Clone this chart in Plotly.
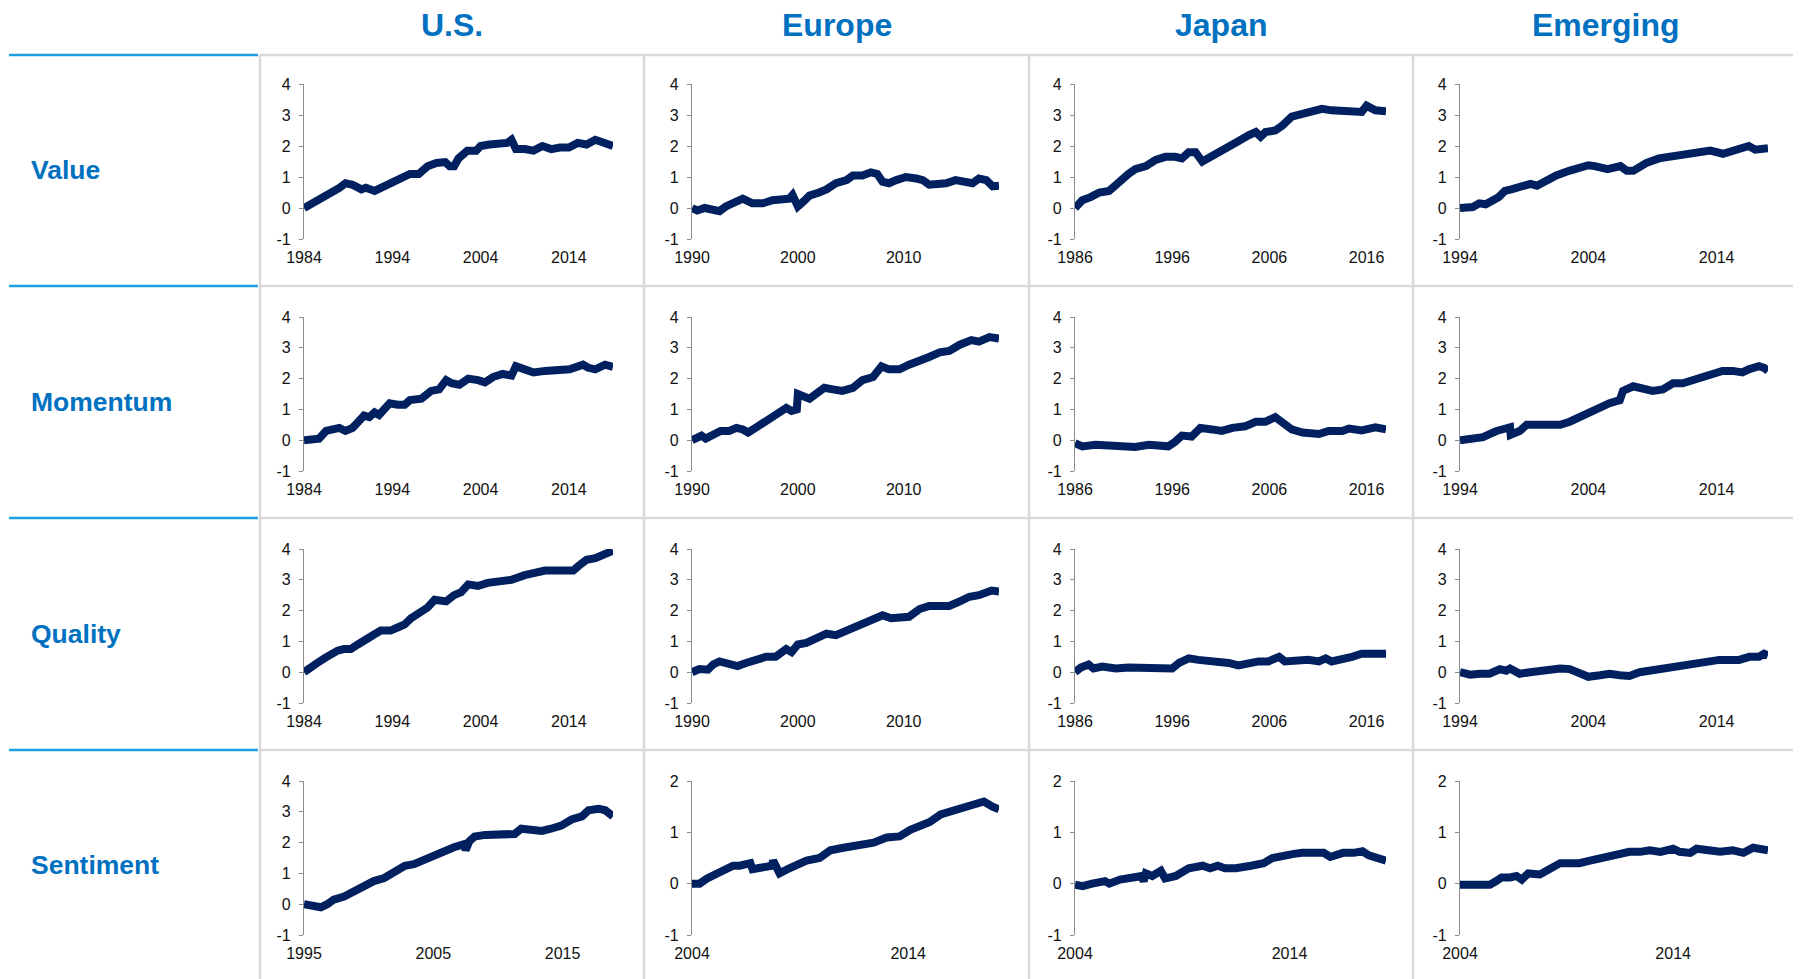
import plotly.graph_objects as go

# regions (columns) and factors (rows)
regions = ["U.S.", "Europe", "Japan", "Emerging"]
factors = ["Value", "Momentum", "Quality", "Sentiment"]

# --- cumulative factor returns (year, value) ---
us_value_t = [1984, 1985, 1986, 1987, 1988, 1988.7, 1989.5, 1990.5, 1991, 1992, 1993, 1994, 1995, 1996, 1997, 1998, 1999,
              2000, 2000.5, 2001, 2001.5, 2002.5, 2003.5, 2004, 2005, 2006, 2007, 2007.5, 2008, 2009, 2010, 2011, 2012,
              2013, 2014, 2015, 2016, 2017, 2018, 2019]
us_value_y = [0.0, 0.15, 0.3, 0.45, 0.65, 0.8, 0.75, 0.6, 0.65, 0.55, 0.7, 0.8, 0.95, 1.1, 1.1, 1.35, 1.45,
              1.48, 1.35, 1.35, 1.6, 1.85, 1.85, 2.0, 2.05, 2.1, 2.1, 2.2, 1.9, 1.9, 1.85, 2.0, 1.9,
              1.95, 1.95, 2.1, 2.05, 2.2, 2.1, 2.0]

us_mom_t = [1984, 1985, 1985.7, 1986.5, 1987.4, 1988, 1988.7, 1989.5, 1990, 1990.8, 1991.4, 1992, 1992.5, 1993.7,
            1994.6, 1995.4, 1996, 1997.3, 1998.4, 1999.3, 2000.1, 2000.7, 2001.6, 2002.6, 2003.7, 2004.5, 2005.4,
            2006.5, 2007.5, 2008, 2009, 2010, 2011.3, 2012.8, 2014.1, 2015.6, 2016.2, 2017, 2018.1, 2019]
us_mom_y = [0.0, 0.0, 0.05, 0.3, 0.35, 0.4, 0.3, 0.4, 0.55, 0.8, 0.75, 0.9, 0.82, 1.2,
            1.15, 1.15, 1.3, 1.35, 1.6, 1.65, 1.95, 1.85, 1.8, 2.0, 1.95, 1.88, 2.05,
            2.15, 2.1, 2.4, 2.3, 2.2, 2.25, 2.3, 2.3, 2.45, 2.35, 2.3, 2.45, 2.38]

us_qual_t = [1984, 1984.8, 1985.5, 1986.3, 1987, 1987.8, 1988.5, 1989.3, 1990.1, 1990.8, 1991.8, 1992.7, 1993.8,
             1994.6, 1995.4, 1996.1, 1997.3, 1998, 1998.8, 1999.5, 2000.1, 2001, 2001.8, 2002.6, 2003.7, 2004.8,
             2006, 2007.5, 2009, 2010.1, 2011.3, 2012.8, 2014.5, 2015.1, 2016, 2017, 2018.1, 2019]
us_qual_y = [0.0, 0.2, 0.3, 0.45, 0.6, 0.7, 0.75, 0.75, 0.9, 1.05, 1.2, 1.35, 1.35,
             1.45, 1.55, 1.75, 1.95, 2.1, 2.35, 2.35, 2.3, 2.5, 2.6, 2.85, 2.8, 2.9,
             2.95, 3.0, 3.15, 3.25, 3.3, 3.3, 3.3, 3.45, 3.65, 3.7, 3.85, 3.95]

us_sent_t = [1995, 1995.8, 1996.3, 1996.8, 1997.3, 1998.1, 1998.9, 1999.7, 2000.4, 2001.2, 2002, 2002.8, 2003.5,
             2004.3, 2005.1, 2005.9, 2006.6, 2007.4, 2007.5, 2007.8, 2008.2, 2009, 2009.7, 2010.5, 2011.3, 2011.8,
             2012.6, 2013.4, 2014.1, 2014.9, 2015.7, 2016.5, 2017, 2017.8, 2018.3, 2018.9]
us_sent_y = [0.0, -0.03, -0.1, 0.0, 0.15, 0.25, 0.45, 0.6, 0.75, 0.85, 1.05, 1.25, 1.3,
             1.45, 1.55, 1.7, 1.85, 1.95, 1.75, 2.05, 2.2, 2.25, 2.27, 2.3, 2.28, 2.45,
             2.4, 2.38, 2.45, 2.55, 2.75, 2.85, 3.05, 3.1, 3.05, 2.85]

eu_value_t = [1990, 1990.5, 1991.2, 1991.8, 1992.6, 1993.2, 1993.8, 1994.8, 1995.7, 1996.7, 1997.6, 1998.6, 1999.2,
              1999.5, 2000, 2000.5, 2001.1, 2002, 2002.7, 2003.6, 2004.6, 2005.2, 2006.1, 2006.9, 2007.5, 2008,
              2008.6, 2009.3, 2010.2, 2011.2, 2011.8, 2012.4, 2013.4, 2014, 2014.9, 2015.9, 2016.5, 2017.1, 2017.8,
              2018.4, 2019]
eu_value_y = [0.0, -0.08, 0.0, -0.05, -0.1, 0.05, 0.15, 0.3, 0.15, 0.15, 0.25, 0.3, 0.3,
              0.42, 0.05, 0.2, 0.4, 0.5, 0.6, 0.8, 0.9, 1.05, 1.05, 1.15, 1.1, 0.85,
              0.8, 0.9, 1.0, 0.95, 0.9, 0.75, 0.75, 0.8, 0.9, 0.85, 0.8, 0.95, 0.9,
              0.7, 0.72]

eu_mom_t = [1990, 1990.9, 1991.3, 1992, 1992.7, 1993.5, 1994.2, 1994.8, 1995.3, 1996, 1997, 1997.9, 1998.9, 1999.4,
            1999.9, 2000, 2000.5, 2001.1, 2001.7, 2002.5, 2003.3, 2004.2, 2005.2, 2006.1, 2007.1, 2007.9, 2008.6,
            2009.6, 2010.5, 2011.5, 2012.4, 2013.4, 2014.3, 2015.3, 2016.4, 2017.1, 2018.1, 2019]
eu_mom_y = [0.0, 0.15, 0.05, 0.2, 0.3, 0.3, 0.4, 0.35, 0.25, 0.4, 0.6, 0.8, 1.05, 0.95,
            1.0, 1.5, 1.4, 1.35, 1.5, 1.7, 1.65, 1.6, 1.7, 1.95, 2.05, 2.4, 2.3,
            2.3, 2.45, 2.55, 2.7, 2.85, 2.9, 3.1, 3.25, 3.2, 3.35, 3.3]

eu_qual_t = [1990, 1990.7, 1991.5, 1992, 1992.6, 1993.2, 1994.3, 1995.1, 1996, 1997, 1997.9, 1998.9, 1999.4, 2000,
             2000.8, 2001.7, 2002.7, 2003.6, 2004.6, 2005.5, 2006.4, 2007.4, 2008, 2008.8, 2009.9, 2010.5, 2011.5,
             2012.4, 2013.4, 2014.3, 2015.3, 2016.2, 2017.1, 2018.3, 2019]
eu_qual_y = [0.0, 0.1, 0.08, 0.25, 0.35, 0.3, 0.2, 0.3, 0.4, 0.5, 0.5, 0.75, 0.65, 0.9,
             0.95, 1.1, 1.25, 1.2, 1.35, 1.45, 1.6, 1.7, 1.85, 1.75, 1.8, 1.8, 2.05,
             2.15, 2.15, 2.15, 2.3, 2.45, 2.5, 2.65, 2.62]

eu_sent_t = [2004, 2004.35, 2004.7, 2005.1, 2005.6, 2005.9, 2006.2, 2006.7, 2006.8, 2007.3, 2007.7, 2007.75, 2008.05,
             2008.5, 2009.3, 2009.9, 2010.4, 2011, 2011.8, 2012.4, 2013, 2013.6, 2014.1, 2014.5, 2015, 2015.5,
             2015.9, 2016.4, 2017, 2017.5, 2017.9, 2018.2]
eu_sent_y = [0.0, 0.0, 0.1, 0.18, 0.3, 0.35, 0.35, 0.4, 0.28, 0.32, 0.35, 0.45, 0.2,
             0.3, 0.45, 0.5, 0.65, 0.7, 0.75, 0.8, 0.9, 0.92, 1.05, 1.1, 1.2, 1.35,
             1.4, 1.45, 1.52, 1.6, 1.5, 1.45]

jp_value_t = [1986, 1986.75, 1987.6, 1988.5, 1989.5, 1990.5, 1991.5, 1992.2, 1993.3, 1994.3, 1995.3, 1996.3, 1997,
              1997.7, 1998.4, 1999.1, 1999.9, 2000.8, 2001.8, 2002.8, 2003.9, 2004.6, 2005.1, 2005.6, 2006.6, 2007.3,
              2008.3, 2009.4, 2010.4, 2011.4, 2012.4, 2013.5, 2014.5, 2015.5, 2016, 2016.9, 2018]
jp_value_y = [0.0, 0.25, 0.35, 0.5, 0.55, 0.85, 1.1, 1.25, 1.35, 1.55, 1.65, 1.65, 1.6,
              1.8, 1.8, 1.5, 1.65, 1.85, 2.0, 2.15, 2.35, 2.45, 2.3, 2.45, 2.5, 2.65,
              2.95, 3.05, 3.15, 3.2, 3.15, 3.15, 3.1, 3.1, 3.3, 3.15, 3.12]

jp_mom_t = [1986, 1986.75, 1988.1, 1989.5, 1990.9, 1992.2, 1993.6, 1995, 1995.6, 1996.3, 1997, 1998, 1998.9, 2000.1,
            2001.1, 2002.2, 2003.5, 2004.6, 2005.6, 2006.6, 2007.3, 2008.3, 2009.4, 2010.4, 2011.1, 2012.1, 2013.5,
            2014.2, 2015.5, 2016.9, 2018]
jp_mom_y = [-0.1, -0.2, -0.15, -0.18, -0.18, -0.22, -0.15, -0.18, -0.2, -0.05, 0.15, 0.12, 0.4, 0.35,
            0.3, 0.4, 0.45, 0.6, 0.6, 0.75, 0.6, 0.35, 0.25, 0.25, 0.2, 0.3, 0.3,
            0.38, 0.32, 0.42, 0.35]

jp_qual_t = [1986, 1986.6, 1987.4, 1987.9, 1988.8, 1990.2, 1991.5, 1992.9, 1993.9, 1995, 1996, 1996.7, 1997.7,
             1998.7, 1999.8, 2000.8, 2001.8, 2002.8, 2003.9, 2004.9, 2005.9, 2007, 2007.6, 2008.7, 2010, 2011.1,
             2011.8, 2012.4, 2013.5, 2014.5, 2015.5, 2016.9, 2018]
jp_qual_y = [0.0, 0.15, 0.25, 0.12, 0.18, 0.12, 0.15, 0.15, 0.1, 0.1, 0.12, 0.3, 0.45,
             0.4, 0.38, 0.3, 0.3, 0.22, 0.3, 0.35, 0.35, 0.5, 0.35, 0.4, 0.4, 0.35,
             0.45, 0.35, 0.4, 0.5, 0.6, 0.6, 0.6]

jp_sent_t = [2004, 2004.35, 2004.8, 2005.4, 2005.6, 2006.1, 2006.7, 2007.1, 2007.2, 2007.3, 2007.6, 2008, 2008.2,
             2008.7, 2009.3, 2009.95, 2010.3, 2010.65, 2011, 2011.5, 2012.2, 2012.8, 2013.2, 2013.7, 2014.2, 2014.6,
             2015.1, 2015.6, 2015.9, 2016.5, 2017, 2017.4, 2017.7, 2018.2, 2018.5]
jp_sent_y = [-0.02, -0.05, 0.0, 0.05, 0.0, 0.08, 0.12, 0.15, 0.05, 0.2, 0.15, 0.25, 0.1,
             0.15, 0.3, 0.35, 0.3, 0.35, 0.3, 0.3, 0.35, 0.4, 0.5, 0.55, 0.58, 0.6,
             0.6, 0.6, 0.52, 0.6, 0.6, 0.63, 0.55, 0.5, 0.45]

em_value_t = [1994, 1995, 1995.5, 1996, 1997, 1997.5, 1998, 1999, 1999.5, 2000, 2000.5, 2001.5, 2002.5, 2003.5, 2004,
              2004.5, 2005.5, 2006.5, 2007, 2007.5, 2008.5, 2009.5, 2010.5, 2011.5, 2012.5, 2013.5, 2014.5, 2015.5,
              2016.5, 2017, 2017.5, 2018]
em_value_y = [0.0, 0.03, 0.15, 0.12, 0.35, 0.55, 0.6, 0.7, 0.78, 0.72, 0.85, 1.05, 1.2, 1.35, 1.38,
              1.35, 1.25, 1.35, 1.2, 1.2, 1.45, 1.6, 1.65, 1.72, 1.8, 1.85, 1.75, 1.85,
              2.0, 1.88, 1.92, 1.93]

em_mom_t = [1994, 1994.8, 1995.3, 1995.8, 1996.3, 1996.85, 1997.9, 1997.95, 1998.65, 1999.2, 2000, 2000.7, 2001.25,
            2001.8, 2002.55, 2003.3, 2004, 2004.9, 2005.65, 2006.45, 2006.7, 2007.5, 2008, 2008.5, 2009, 2009.8,
            2010.6, 2011.35, 2012.1, 2012.9, 2013.7, 2014.45, 2015.25, 2016, 2016.5, 2017.3, 2017.7, 2018]
em_mom_y = [0.0, 0.02, 0.05, 0.1, 0.2, 0.3, 0.42, 0.18, 0.3, 0.5, 0.5, 0.5, 0.45,
            0.5, 0.6, 0.75, 0.85, 1.0, 1.2, 1.3, 1.6, 1.75, 1.7, 1.6, 1.6, 1.65,
            1.85, 1.85, 1.95, 2.05, 2.1, 2.25, 2.25, 2.2, 2.3, 2.4, 2.35, 2.25]

em_qual_t = [1994, 1994.8, 1995.55, 1996.3, 1997.1, 1997.6, 1997.9, 1998.65, 1999.45, 2000.2, 2001, 2001.8, 2002.55,
             2003.3, 2004, 2004.9, 2005.65, 2006.45, 2007.2, 2008, 2008.75, 2009.55, 2010.3, 2011.1, 2011.9, 2012.65,
             2013.45, 2014.2, 2015, 2015.75, 2016.55, 2017.3, 2017.7, 2018]
em_qual_y = [0.0, -0.08, -0.05, -0.05, 0.1, 0.05, 0.12, -0.05, 0.0, 0.05, 0.12, 0.12, 0.1,
             -0.05, -0.15, -0.1, -0.05, -0.1, -0.12, 0.0, 0.05, 0.12, 0.15, 0.25, 0.3, 0.3,
             0.35, 0.4, 0.4, 0.4, 0.5, 0.5, 0.6, 0.55]

em_sent_t = [2004, 2004.45, 2004.95, 2005.4, 2005.7, 2005.95, 2006.35, 2006.65, 2006.9, 2007.2, 2007.75, 2008.05,
             2008.4, 2008.7, 2009.15, 2009.6, 2010.1, 2010.55, 2011, 2011.5, 2011.95, 2012.45, 2012.9, 2013.4, 2014,
             2014.3, 2014.8, 2015.1, 2015.55, 2016.2, 2016.8, 2017.3, 2017.75, 2018.15, 2018.45]
em_sent_y = [-0.02, -0.02, 0.0, -0.02, 0.05, 0.12, 0.12, 0.15, 0.08, 0.2, 0.18, 0.25,
             0.3, 0.4, 0.4, 0.4, 0.45, 0.5, 0.55, 0.6, 0.62, 0.62, 0.65, 0.62, 0.68,
             0.62, 0.6, 0.68, 0.65, 0.62, 0.65, 0.6, 0.7, 0.68, 0.65]

series = {
    ("Value", "U.S."): (us_value_t, us_value_y),
    ("Momentum", "U.S."): (us_mom_t, us_mom_y),
    ("Quality", "U.S."): (us_qual_t, us_qual_y),
    ("Sentiment", "U.S."): (us_sent_t, us_sent_y),
    ("Value", "Europe"): (eu_value_t, eu_value_y),
    ("Momentum", "Europe"): (eu_mom_t, eu_mom_y),
    ("Quality", "Europe"): (eu_qual_t, eu_qual_y),
    ("Sentiment", "Europe"): (eu_sent_t, eu_sent_y),
    ("Value", "Japan"): (jp_value_t, jp_value_y),
    ("Momentum", "Japan"): (jp_mom_t, jp_mom_y),
    ("Quality", "Japan"): (jp_qual_t, jp_qual_y),
    ("Sentiment", "Japan"): (jp_sent_t, jp_sent_y),
    ("Value", "Emerging"): (em_value_t, em_value_y),
    ("Momentum", "Emerging"): (em_mom_t, em_mom_y),
    ("Quality", "Emerging"): (em_qual_t, em_qual_y),
    ("Sentiment", "Emerging"): (em_sent_t, em_sent_y),
}

# --- page geometry (screen pixels; the page body adds an 8px offset) ---
OFF = 8
W, H = 1801 - OFF, 979 - OFF
FONT = "Liberation Sans, Arial, sans-serif"
BLUE_TXT = "#0070C0"
BLUE_RULE = "#1EA0E0"
GRID = "#D9D9D9"
AXIS = "#8C8C8C"
LINE = "#00205F"

col_edges = [260, 644, 1029, 1413, 1799]
row_edges = [55, 286, 518, 750, 979]
col_axis = [(304, 613), (692, 999), (1075, 1386), (1460, 1768)]
row_axis = [(84, 239), (317, 471), (549, 703), (781, 935)]


def px(x):
    return (x - OFF) / W


def py(y):
    return 1 - (y - OFF) / H


fig = go.Figure()
layout = {}
n_panels = len(regions) * len(factors)

for r, fac in enumerate(factors):
    for c, reg in enumerate(regions):
        n = r * len(regions) + c + 1
        m = n + n_panels  # overlay axis carrying the zero line
        t, v = series[(fac, reg)]
        ymin, ymax = (-1, 2) if (fac == "Sentiment" and reg != "U.S.") else (-1, 4)
        x0, x1 = t[0], t[-1]
        ticks = list(range(int(x0), int(x1) + 1, 10))
        yticks = list(range(ymin, ymax + 1))

        fig.add_trace(go.Scatter(x=t, y=v, mode="lines", xaxis=f"x{n}", yaxis=f"y{n}",
                                 line=dict(color=LINE, width=8), showlegend=False, hoverinfo="skip"))

        xd = [px(col_axis[c][0]), px(col_axis[c][1])]
        yd = [py(row_axis[r][1]), py(row_axis[r][0])]
        zero_pos = yd[0] + (0 - ymin) / (ymax - ymin) * (yd[1] - yd[0])

        layout[f"xaxis{n}"] = dict(domain=xd, range=[x0, x1], anchor=f"y{n}", tickvals=ticks,
                                   ticktext=[str(k) for k in ticks], showgrid=False, zeroline=False,
                                   showline=False, ticks="", ticklabelstandoff=7,
                                   tickfont=dict(family=FONT, size=16, color="#111111"))
        layout[f"xaxis{m}"] = dict(overlaying=f"x{n}", anchor="free", position=zero_pos, range=[x0, x1],
                                   tickvals=ticks, showticklabels=False, showgrid=False, zeroline=False,
                                   showline=True, linecolor=AXIS, linewidth=1.3, ticks="outside",
                                   ticklen=5, tickcolor=AXIS, tickwidth=1.3)
        layout[f"yaxis{n}"] = dict(domain=yd, range=[ymin, ymax], anchor=f"x{n}", tickvals=yticks,
                                   ticktext=[str(k) for k in yticks],
                                   showgrid=False, zeroline=False, showline=True, linecolor=AXIS,
                                   linewidth=1.3, ticks="outside", ticklen=4, tickcolor=AXIS, tickwidth=1.3,
                                   ticklabelstandoff=5,
                                   tickfont=dict(family=FONT, size=16, color="#111111"))

# table rules
shapes = []
for y in row_edges[:-1]:
    shapes.append(dict(type="line", xref="paper", yref="paper", x0=px(col_edges[0]), x1=1,
                       y0=py(y), y1=py(y), line=dict(color=GRID, width=2.5)))
    shapes.append(dict(type="line", xref="paper", yref="paper", x0=px(9), x1=px(col_edges[0] - 2),
                       y0=py(y), y1=py(y), line=dict(color=BLUE_RULE, width=2.5)))
for x in col_edges:
    shapes.append(dict(type="line", xref="paper", yref="paper", x0=px(x), x1=px(x),
                       y0=py(row_edges[0]), y1=0, line=dict(color=GRID, width=2.5)))

annotations = []
for c, reg in enumerate(regions):
    annotations.append(dict(text=f"<b>{reg}</b>", xref="paper", yref="paper",
                            x=px((col_edges[c] + col_edges[c + 1]) / 2), y=py(25),
                            xanchor="center", yanchor="middle", showarrow=False,
                            font=dict(family=FONT, size=32, color=BLUE_TXT)))
for r, fac in enumerate(factors):
    annotations.append(dict(text=f"<b>{fac}</b>", xref="paper", yref="paper",
                            x=px(29), y=py((row_edges[r] + row_edges[r + 1]) / 2),
                            xanchor="left", yanchor="middle", showarrow=False,
                            font=dict(family=FONT, size=26.5, color=BLUE_TXT)))

fig.update_layout(width=W, height=H, margin=dict(l=0, r=0, t=0, b=0, autoexpand=False),
                  paper_bgcolor="white", plot_bgcolor="white",
                  shapes=shapes, annotations=annotations, **layout)

fig.write_html("out.html")
